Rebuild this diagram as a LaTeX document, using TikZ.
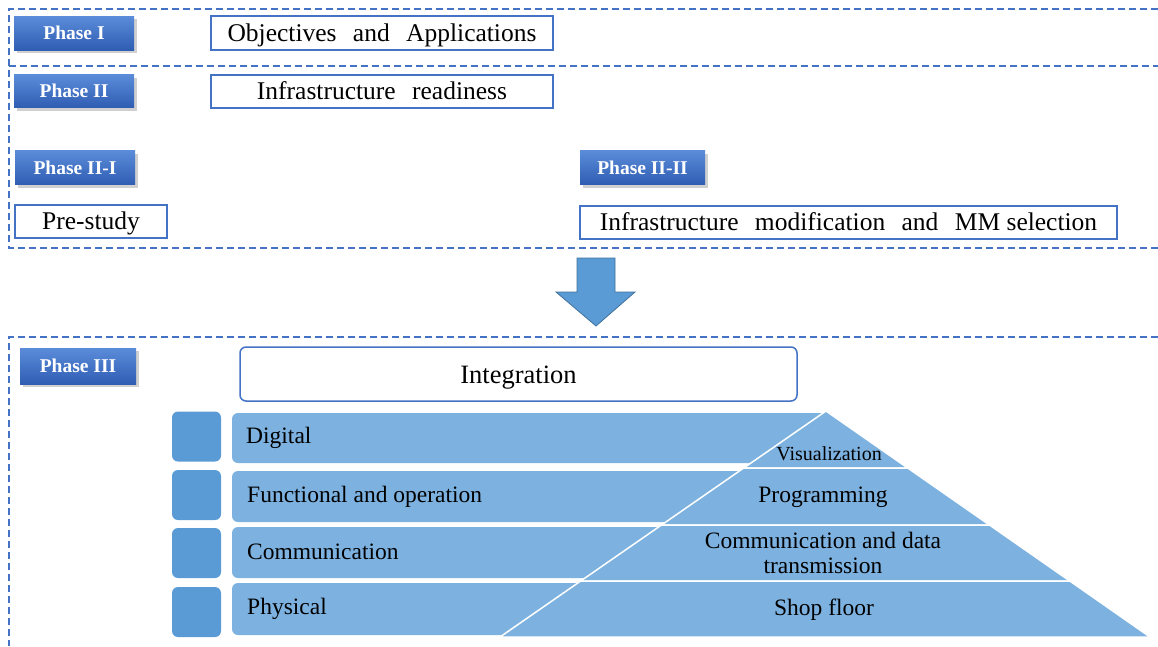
\documentclass[tikz,border=0pt]{standalone}
\usepackage{fontspec}
\setmainfont{Liberation Serif}
\usetikzlibrary{shadows}
\definecolor{dashblue}{HTML}{4472C4}
\definecolor{boxblue}{HTML}{4472C4}
\definecolor{badgetop}{HTML}{5B8CD9}
\definecolor{badgebot}{HTML}{2F5DB3}
\definecolor{arrowfill}{HTML}{5B9BD5}
\definecolor{arrowline}{HTML}{41719C}
\definecolor{barblue}{HTML}{7DB2E0}
\definecolor{sqblue}{HTML}{5B9BD5}
\newcommand{\wsp}{\hspace{10pt}}
\begin{document}
\begin{tikzpicture}[x=1pt,y=-1pt,
  frame/.style={draw=dashblue, line width=1.3pt, dash pattern=on 7pt off 4pt},
  badge/.style={rectangle, inner sep=0pt, top color=badgetop, bottom color=badgebot,
    drop shadow={shadow xshift=2.5pt, shadow yshift=-3pt, opacity=0.3, fill=black!60},
    text=white, font=\bfseries\fontsize{19.5}{22}\selectfont, minimum height=34pt},
  wbox/.style={rectangle, draw=boxblue, line width=1.5pt, fill=white, inner sep=0pt,
    font=\fontsize{25.5}{28}\selectfont, minimum height=33pt, text height=20pt, text depth=4pt},
  sq/.style={rectangle, rounded corners=6pt, fill=sqblue, inner sep=0pt, minimum width=49pt, minimum height=50pt},
  layerbar/.style={fill=barblue, rounded corners=6pt},
  barlabel/.style={anchor=west, inner sep=0pt, font=\fontsize{23.5}{25}\selectfont},
  pyr/.style={fill=barblue, draw=white, line width=1.5pt, line join=miter},
  pyrlabel/.style={inner sep=0pt, align=center, font=\fontsize{23.5}{25}\selectfont}
]
\useasboundingbox (0,0) rectangle (1158,646);
\fill[white] (0,0) rectangle (1158,646);

% frames
\draw[frame] (1158,9) -- (9,9) -- (9,248) -- (1158,248);
\draw[frame] (9,66) -- (1158,66);
\draw[frame] (1158,337) -- (9,337) -- (9,646);

% badges
\node[badge, minimum width=120pt] (p1) at (74,33) {Phase I};
\node[badge, minimum width=120pt, minimum height=33pt] (p2) at (74,91) {Phase II};
\node[badge, minimum width=120pt] (p21) at (75,167.5) {Phase II-I};
\node[badge, minimum width=125pt] (p22) at (642.5,167.5) {Phase II-II};
\node[badge, minimum width=116pt, minimum height=36pt] (p3) at (78,366) {Phase III};

% white boxes
\node[wbox, minimum width=342pt, minimum height=34pt] (obj) at (382,33) {Objectives\wsp{} and\wsp{} Applications};
\node[wbox, minimum width=342pt] (infra) at (382,91.5) {Infrastructure\wsp{} readiness};
\node[wbox, minimum width=152pt] (pre) at (91,221.5) {Pre-study};
\node[wbox, minimum width=537pt] (mod) at (848.5,222.5) {Infrastructure\wsp{} modification\wsp{} and\wsp{} MM selection};
\node[wbox, rounded corners=6pt, minimum width=557pt, minimum height=54pt, font=\fontsize{26.5}{28}\selectfont, text height=21pt, text depth=3pt] (integ) at (518.5,374) {Integration};

% block arrow
\draw[fill=arrowfill, draw=arrowline, line width=0.8pt, line join=miter]
  (577,258) -- (615,258) -- (615,292) -- (635,292) -- (596,326) -- (556,292) -- (577,292) -- cycle;

% left squares
\node[sq] (s1) at (196.5,436.5) {};
\node[sq] (s2) at (196.5,495) {};
\node[sq] (s3) at (196.5,553) {};
\node[sq] (s4) at (196.5,612) {};

% bars
\fill[layerbar] (232,413) rectangle (828,463);
\fill[layerbar] (232,471) rectangle (828,522);
\fill[layerbar] (232,527) rectangle (828,578);
\fill[layerbar] (232,583) rectangle (828,635);

% pyramid layers
\draw[pyr] (826,411) -- (907.7,468) -- (743.7,468) -- cycle;
\draw[pyr] (743.7,468) -- (907.7,468) -- (989.5,525) -- (661.5,525) -- cycle;
\draw[pyr] (661.5,525) -- (989.5,525) -- (1069.8,581) -- (580.7,581) -- cycle;
\draw[pyr] (580.7,581) -- (1069.8,581) -- (1150,637) -- (500,637) -- cycle;

% bar labels
\node[barlabel] (ldig) at (246,438) {Digital};
\node[barlabel] (lfun) at (247,497) {Functional and operation};
\node[barlabel] (lcom) at (247,552) {Communication};
\node[barlabel] (lphy) at (247,609) {Physical};

% pyramid labels
\node[pyrlabel, font=\fontsize{20}{22}\selectfont] (vis) at (829,454) {Visualization};
\node[pyrlabel] (prog) at (823,497) {Programming};
\node[pyrlabel] (comm) at (823,553) {Communication and data\\transmission};
\node[pyrlabel] (shop) at (824,610) {Shop floor};
\end{tikzpicture}
\end{document}
